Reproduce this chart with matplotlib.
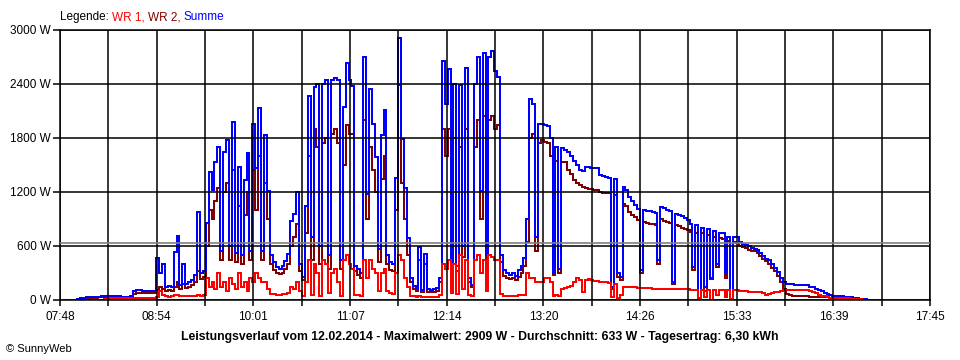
import matplotlib
matplotlib.use("Agg")
import matplotlib.pyplot as plt

# ---------------- data (2-minute samples starting 08:00) ----------------
start_minute = 8 * 60          # 08:00
step_minutes = 2

summe = (
    [15, 20, 25, 30, 30, 30, 30, 35, 40, 45, 45, 45, 45, 45, 40, 35, 35, 35, 40, 100, 110, 110, 105, 100, 100, 100, 105]
    + [470, 300, 400, 150, 160, 140, 530, 715, 170, 400, 180, 200, 220, 280, 975, 300, 320]
    + [855, 1425, 1220, 1535, 1700, 550, 1650, 1780, 600, 1980, 520, 1480, 500, 1330, 1630, 550, 1960]
    + [1470, 2130, 550, 1830, 1210, 500, 420, 370, 350, 380, 430, 510, 880, 955, 1200, 400, 260]
    + [1050, 2265, 700, 2370, 2400, 600, 2400, 2440, 500, 2450, 2470, 2450, 450, 2140, 2630, 2440]
    + [2380, 380, 340, 300, 2700, 1180, 2350, 1960, 1590, 570, 1830, 2110, 500, 420, 400, 1360, 2909]
    + [1790, 1250, 690, 250, 160, 130, 585, 110, 510, 120, 110, 120, 130, 250, 2660, 2180]
    + [2570, 400, 2400, 380, 2390, 600, 2575, 250, 170, 2400, 2700, 1215, 2740, 500, 2700, 2770, 2550]
    + [2480, 500, 330, 300, 280, 300, 270, 330, 380, 470, 900, 2230, 2180, 700, 1955, 1960, 1950]
    + [1930, 1800, 300, 1700, 350, 1690, 1670, 1650, 1600, 1550, 1500, 1450, 1430, 1480, 1475, 1470, 1465]
    + [1470, 1390, 1380, 1370, 1355, 150, 1340, 300, 255, 1260, 1220, 1150, 1100, 1060, 1010, 330]
    + [1000, 990, 985, 975, 965, 445, 1035, 1020, 1000, 985, 205, 960, 950, 930, 910, 890]
    + [850, 370, 830, 20, 800, 150, 790, 250, 770, 400, 750, 740, 300, 705, 10, 700, 700]
    + [640, 625, 610, 595, 580, 565, 555, 520, 490, 460, 440, 400, 360, 310, 250, 200, 180]
    + [175, 175, 172, 170, 170, 168, 165, 150, 140, 125, 110, 95, 80, 65, 55, 45, 40, 45, 40, 35, 35, 30, 25, 20, 15, 12, 8, 5, 0]
)

wr2 = (
    [10, 15, 20, 25, 25, 25, 25, 30, 35, 35, 35, 35, 35, 35, 30, 30, 30, 30, 35, 70, 80, 80, 80, 75, 75, 75, 80]
    + [110, 150, 120, 100, 110, 100, 150, 200, 120, 180, 130, 150, 170, 200, 320, 230, 260]
    + [600, 1000, 900, 1100, 1250, 450, 1200, 1300, 450, 1450, 420, 1050, 400, 950, 1200, 440, 1450]
    + [1000, 1600, 450, 1300, 900, 400, 330, 300, 290, 300, 350, 400, 600, 700, 850, 320, 220]
    + [750, 1600, 450, 1900, 1700, 400, 1750, 1800, 350, 1850, 1900, 1750, 350, 1500, 1950, 1850]
    + [1850, 320, 280, 250, 2000, 900, 1700, 1450, 1200, 420, 1350, 1600, 400, 330, 320, 1000, 2390]
    + [1300, 900, 500, 200, 120, 100, 450, 85, 400, 90, 85, 90, 100, 200, 1900, 1600]
    + [1900, 330, 1800, 320, 1700, 480, 1900, 200, 140, 1700, 2000, 900, 2050, 380, 2000, 2050, 1900]
    + [1950, 420, 270, 250, 230, 250, 220, 260, 300, 380, 650, 1800, 1850, 550, 1750, 1780, 1760]
    + [1750, 1600, 280, 1550, 300, 1537, 1530, 1450, 1400, 1333, 1300, 1278, 1259, 1241, 1235, 1230, 1225]
    + [1222, 1204, 1190, 1185, 1185, 120, 1170, 260, 220, 1070, 1040, 980, 950, 920, 890, 300]
    + [870, 860, 850, 845, 835, 400, 900, 880, 865, 855, 180, 830, 820, 805, 790, 780]
    + [760, 330, 750, 20, 740, 100, 720, 230, 700, 370, 690, 680, 250, 660, 10, 640, 635]
    + [605, 590, 575, 560, 550, 540, 520, 490, 460, 430, 400, 360, 320, 270, 200, 120, 70]
    + [55, 50, 48, 45, 42, 40, 40, 38, 37, 37, 35, 33, 30, 28, 25, 20, 18, 18, 15, 15, 12, 10, 8, 5, 5, 3, 2, 0, 0]
)

wr1 = (
    [5, 5, 5, 5, 5, 5, 5, 5, 5, 10, 15, 20, 20, 20, 20, 20, 20, 20, 20, 20, 20, 20, 20, 20, 20, 20, 20]
    + [30, 100, 60, 40, 30, 40, 60, 60, 40, 50, 40, 40, 40, 40, 60, 50, 60]
    + [250, 150, 200, 120, 300, 150, 200, 100, 250, 180, 120, 300, 150, 200, 100, 250, 200]
    + [300, 250, 200, 200, 120, 70, 65, 60, 60, 65, 70, 80, 150, 120, 200, 100, 50]
    + [200, 450, 60, 400, 300, 50, 450, 400, 80, 300, 350, 200, 40, 450, 500, 400]
    + [350, 60, 60, 50, 450, 250, 450, 350, 300, 100, 300, 350, 100, 80, 70, 300, 500]
    + [450, 250, 150, 50, 40, 30, 40, 30, 35, 30, 30, 30, 30, 60, 400, 350]
    + [450, 80, 400, 70, 500, 120, 450, 60, 40, 450, 500, 300, 450, 100, 500, 480, 450]
    + [450, 70, 50, 50, 50, 50, 50, 60, 60, 60, 300, 250, 250, 200, 200, 200, 250]
    + [250, 200, 40, 60, 50, 120, 130, 140, 160, 200, 240, 220, 90, 220, 230, 220, 210]
    + [210, 200, 200, 195, 190, 30, 180, 20, 60, 150, 150, 148, 145, 140, 135, 130]
    + [130, 128, 128, 125, 125, 125, 125, 125, 120, 120, 120, 120, 120, 120, 120, 118]
    + [115, 115, 115, 0, 110, 30, 110, 0, 110, 60, 110, 110, 30, 110, 0, 110, 110]
    + [95, 95, 95, 92, 92, 90, 90, 85, 80, 60, 70, 80, 85, 90, 100, 110, 115]
    + [112, 112, 112, 110, 110, 110, 108, 100, 90, 75, 60, 50, 42, 35, 25, 20, 20, 25, 22, 20, 18, 15, 12, 10, 8, 5, 3, 2, 0]
)

average_w = 633
y_ticks = [0, 600, 1200, 1800, 2400, 3000]
x_start, x_end = 7 * 60 + 48, 17 * 60 + 45     # 07:48 .. 17:45
n_grid = 18
x_tick_labels = ["07:48", "08:54", "10:01", "11:07", "12:14",
                 "13:20", "14:26", "15:33", "16:39", "17:45"]
title = ("Leistungsverlauf vom 12.02.2014 - Maximalwert: 2909 W - "
         "Durchschnitt: 633 W - Tagesertrag: 6,30 kWh")

# ---------------- plot ----------------
FONT = ["Liberation Sans", "DejaVu Sans"]
plt.rcParams["font.family"] = FONT

n = min(len(summe), len(wr1), len(wr2))
times = [start_minute + step_minutes * i for i in range(n)]

W, H = 960, 360
fig = plt.figure(figsize=(W / 100, H / 100), dpi=100)
fig.patch.set_facecolor("white")
ax = fig.add_axes([60 / W, 1 - 300 / H, 870 / W, 270 / H])

LW = 1.3
ax.plot(times, wr2[:n], color="#800000", lw=LW, drawstyle="steps-post",
        zorder=2, antialiased=False)
ax.plot(times, summe[:n], color="#0000FF", lw=LW, drawstyle="steps-post",
        zorder=2.1, antialiased=False)
ax.plot(times, wr1[:n], color="#FF0000", lw=LW, drawstyle="steps-post",
        zorder=2.2, antialiased=False)

ax.axhline(average_w, color="#808080", lw=1.2, zorder=3)

ax.set_xlim(x_start, x_end)
ax.set_ylim(0, 3000)

grid_x = [x_start + k * (x_end - x_start) / n_grid for k in range(n_grid + 1)]
ax.set_xticks(grid_x)
labels = []
for k in range(n_grid + 1):
    labels.append(x_tick_labels[k // 2] if k % 2 == 0 else "")
ax.set_xticklabels(labels, fontsize=8.5)
ax.set_yticks(y_ticks)
ax.set_yticklabels([f"{v} W" for v in y_ticks], fontsize=8.5)

ax.grid(True, color="black", lw=1.1)
ax.set_axisbelow(False)
for sp in ax.spines.values():
    sp.set_color("black")
    sp.set_linewidth(1.1)
ax.tick_params(axis="x", length=4, width=1.1, pad=4, colors="black")
ax.tick_params(axis="y", length=5, width=1.1, pad=1.5, colors="black")

# legend line at top-left, multicoloured
fig.canvas.draw()
renderer = fig.canvas.get_renderer()
parts = [("Legende:", "black"), ("WR 1,", "#FF0000"), ("WR 2,", "#800000"), ("Summe", "#0000FF")]
xpix = 60
for txt, col in parts:
    t = fig.text(xpix / W, 1 - 17 / H, txt, color=col, fontsize=8.5,
                 ha="left", va="center")
    bb = t.get_window_extent(renderer=renderer)
    xpix = bb.x1 + 3

fig.text(480 / W, 1 - 337 / H, title, ha="center", va="center",
         fontsize=8.8, fontweight="bold")
fig.text(6 / W, 1 - 349 / H, "\u00a9 SunnyWeb", ha="left", va="center", fontsize=8)

fig.savefig("out.png", dpi=100, facecolor="white")
